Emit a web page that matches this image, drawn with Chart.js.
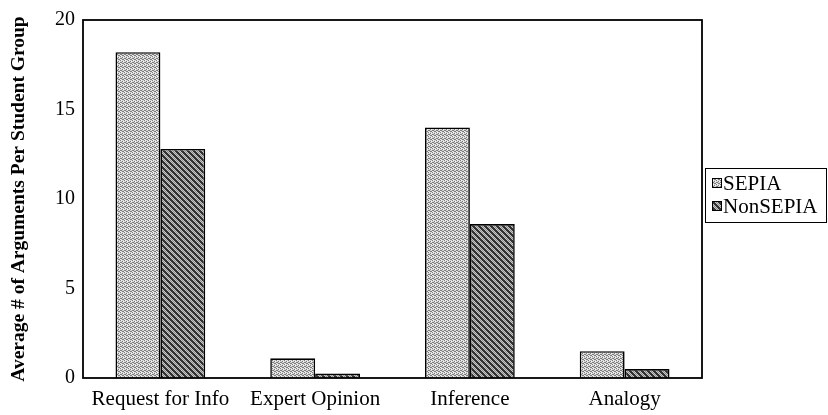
<!DOCTYPE html>
<html>
<head>
<meta charset="utf-8">
<script src="https://cdn.jsdelivr.net/npm/chart.js@4.4.1/dist/chart.umd.min.js"></script>
<style>
  html, body { margin: 0; padding: 0; background: #fff; }
  #wrap { width: 828px; height: 415px; position: relative; }
</style>
</head>
<body>
<div id="wrap"><canvas id="c" width="828" height="415"></canvas></div>
<script>
const categories = ["Request for Info", "Expert Opinion", "Inference", "Analogy"];
const seriesNames = ["SEPIA", "NonSEPIA"];
const sepiaValues = [18.2, 1.1, 14.0, 1.5];
const nonSepiaValues = [12.8, 0.25, 8.6, 0.5];
const yTicks = [0, 5, 10, 15, 20];
const yTitle = "Average # of Arguments Per Student Group";

const FONT = "'Liberation Serif', 'Times New Roman', serif";

function makeStipple() {
  const c = document.createElement('canvas');
  c.width = 4; c.height = 4;
  const x = c.getContext('2d');
  x.fillStyle = '#d6d6d6';
  x.fillRect(0, 0, 4, 4);
  x.fillStyle = '#7c7c7c';
  const pts = [[0,0],[2,1],[1,2],[3,3],[2,3],[0,2]];
  pts.forEach(p => x.fillRect(p[0], p[1], 1, 1));
  x.fillStyle = '#f4f4f4';
  [[1,0],[3,1],[0,3]].forEach(p => x.fillRect(p[0], p[1], 1, 1));
  return x.createPattern(c, 'repeat');
}
function makeHatch() {
  const P = 6;
  const c = document.createElement('canvas');
  c.width = P; c.height = P;
  const x = c.getContext('2d');
  for (let i = 0; i < P; i++) {
    for (let j = 0; j < P; j++) {
      const d = (((i - j) % P) + P) % P;
      x.fillStyle = d < 3 ? '#333333' : ((i + j) % 2 ? '#c4c4c4' : '#8e8e8e');
      x.fillRect(i, j, 1, 1);
    }
  }
  return x.createPattern(c, 'repeat');
}

const fills = [makeStipple(), makeHatch()];

const framePlugin = {
  id: 'frame',
  afterDatasetsDraw(chart) {
    const a = chart.chartArea;
    const ctx = chart.ctx;
    ctx.save();
    ctx.strokeStyle = '#000';
    ctx.lineWidth = 1.8;
    ctx.strokeRect(a.left, a.top, a.right - a.left, a.bottom - a.top);
    ctx.restore();
  }
};

const legendPlugin = {
  id: 'boxLegend',
  afterDraw(chart) {
    const ctx = chart.ctx;
    const left = 705, top = 168, right = 827, bottom = 222;
    ctx.save();
    ctx.strokeStyle = '#000';
    ctx.lineWidth = 1;
    ctx.strokeRect(left + 0.5, top + 0.5, right - left - 1, bottom - top);
    ctx.font = "21px " + FONT;
    ctx.textBaseline = 'middle';
    chart.data.datasets.forEach((ds, i) => {
      const cy = 183 + i * 23;
      ctx.fillStyle = ds.backgroundColor;
      ctx.fillRect(712, cy - 5, 10, 10);
      ctx.strokeStyle = '#000';
      ctx.strokeRect(712.5, cy - 4.5, 9, 9);
      ctx.fillStyle = '#000';
      ctx.fillText(ds.label, 723, cy + 1);
    });
    ctx.restore();
  }
};

new Chart(document.getElementById('c'), {
  type: 'bar',
  data: {
    labels: categories,
    datasets: [
      { label: seriesNames[0], data: sepiaValues, backgroundColor: fills[0], borderColor: '#000', borderWidth: 1.6, borderSkipped: 'bottom' },
      { label: seriesNames[1], data: nonSepiaValues, backgroundColor: fills[1], borderColor: '#000', borderWidth: 1.6, borderSkipped: 'bottom' }
    ]
  },
  options: {
    responsive: false,
    animation: false,
    devicePixelRatio: 1,
    layout: { padding: { top: 19, right: 126, left: 0, bottom: 0 } },
    plugins: { legend: { display: false }, tooltip: { enabled: false } },
    datasets: { bar: { categoryPercentage: 0.58, barPercentage: 1.0 } },
    scales: {
      x: {
        grid: { display: false, drawTicks: false },
        border: { display: false },
        ticks: { color: '#000', font: { family: FONT, size: 21 }, padding: 9, maxRotation: 0, autoSkip: false },
        afterFit(s) { s.height = 37; }
      },
      y: {
        min: 0, max: 20,
        grid: { display: false, drawTicks: false },
        border: { display: false },
        afterBuildTicks(s) { s.ticks = yTicks.map(v => ({ value: v })); },
        ticks: { color: '#000', font: { family: FONT, size: 20 }, padding: 8 },
        title: { display: true, text: yTitle, color: '#000', font: { family: FONT, size: 19.5, weight: 'bold' }, padding: { top: 7, bottom: 0 } },
        afterFit(s) { s.width = 83; }
      }
    }
  },
  plugins: [framePlugin, legendPlugin]
});
</script>
</body>
</html>
